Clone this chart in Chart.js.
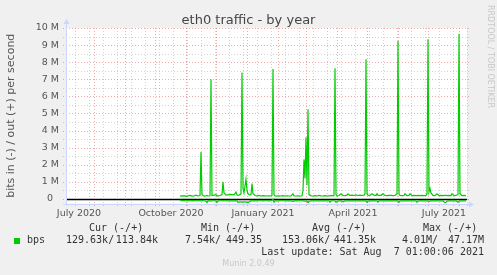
<!DOCTYPE html>
<html><head><meta charset="utf-8">
<script src="https://cdn.jsdelivr.net/npm/chart.js@4.4.1/dist/chart.umd.min.js"></script>
<style>
html,body{margin:0;padding:0;background:#f0f0f0;width:497px;height:275px;overflow:hidden;}
#wrap{position:relative;width:497px;height:275px;}
canvas{position:absolute;left:0;top:0;}
.t{position:absolute;white-space:pre;font-family:'DejaVu Sans';line-height:1;}
.m{position:absolute;white-space:pre;font-family:'DejaVu Sans Mono';font-size:10px;line-height:1;color:#333;}
</style></head><body>
<div id="wrap">
<canvas id="c" width="497" height="275"></canvas>
<div class="t" id="title" style="left:0;width:497px;text-align:center;top:12.5px;font-size:13px;color:#444;">eth0 traffic - by year</div>
<div class="t" id="rrd" style="left:494px;top:5px;font-size:8px;color:#c8c8c8;transform-origin:0 0;transform:rotate(90deg);">RRDTOOL / TOBI OETIKER</div>
<div id="legend"></div>
</div>
<script>
// ---- data (days since 2020-07-05; values in Mbit/s) ----
const days = [113,115,117,119,121,123,125,127,129,131,133,134,135,137,139,140,141,143,144,145,147,149,150,151,153,155,156,157,159,161,163,165,167,169,170,171,173,174,175,176,177,179,180,181,183,184,185,186,188,190,192,194,196,198,200,202,204,205,206,207,208,210,212,214,216,218,220,222,224,226,227,229,231,233,235,236,237,238,239,240,241,242,244,246,248,250,252,254,256,258,260,262,263,264,266,267,268,269,270,272,274,276,278,280,281,283,285,287,289,291,293,295,297,298,299,300,301,303,305,307,309,310,311,312,314,316,318,320,322,324,326,328,330,331,332,333,335,337,338,340,342,343,345,347,349,350,351,353,355,357,359,360,361,362,363,364,366,368,370,372,374,376,378,379,380,382,384,385,387,389,391,392,393,395,397,399];
const outMbps = [0.18,0.16,0.19,0.15,0.18,0.20,0.16,0.17,0.22,0.17,0.20,2.75,0.25,0.16,0.18,0.20,0.17,0.18,7.00,0.20,0.22,0.25,0.18,0.18,0.20,0.25,1.00,0.35,0.22,0.24,0.26,0.25,0.24,0.40,0.22,0.20,0.25,0.30,7.40,0.60,0.35,1.15,0.50,0.30,0.22,0.25,0.90,0.30,0.20,0.18,0.20,0.17,0.19,0.18,0.17,0.18,0.17,0.20,7.60,0.25,0.17,0.16,0.18,0.17,0.19,0.17,0.18,0.17,0.18,0.30,0.18,0.17,0.18,0.17,0.18,0.50,2.30,1.20,3.60,0.80,5.25,0.25,0.18,0.17,0.19,0.17,0.20,0.18,0.17,0.19,0.17,0.18,0.18,0.20,0.18,0.20,7.65,0.25,0.17,0.20,0.30,0.20,0.19,0.22,0.30,0.20,0.22,0.20,0.23,0.20,0.22,0.20,0.21,0.30,8.17,0.30,0.22,0.20,0.30,0.22,0.20,0.30,0.20,0.20,0.21,0.30,0.20,0.19,0.21,0.20,0.19,0.20,0.30,9.24,0.30,0.20,0.19,0.20,0.30,0.19,0.20,0.30,0.19,0.20,0.19,0.19,0.20,0.19,0.20,0.19,0.20,0.30,9.34,0.40,0.60,0.35,0.20,0.19,0.30,0.19,0.20,0.19,0.20,0.20,0.19,0.20,0.19,0.30,0.19,0.20,0.25,9.65,0.30,0.19,0.20,0.19];
const inMbps = [-0.08,-0.10,-0.10,-0.11,-0.10,-0.11,-0.10,-0.10,-0.11,-0.10,-0.11,-0.12,-0.10,-0.11,-0.14,-0.22,-0.12,-0.11,-0.13,-0.11,-0.11,-0.12,-0.21,-0.12,-0.11,-0.11,-0.12,-0.11,-0.11,-0.12,-0.11,-0.12,-0.11,-0.12,-0.12,-0.20,-0.18,-0.18,-0.19,-0.18,-0.18,-0.19,-0.18,-0.22,-0.13,-0.12,-0.12,-0.12,-0.11,-0.12,-0.11,-0.11,-0.12,-0.11,-0.11,-0.12,-0.11,-0.08,-0.02,-0.20,-0.12,-0.11,-0.12,-0.11,-0.11,-0.12,-0.11,-0.12,-0.11,-0.16,-0.12,-0.11,-0.12,-0.11,-0.11,-0.12,-0.12,-0.13,-0.13,-0.12,-0.22,-0.14,-0.12,-0.11,-0.12,-0.11,-0.12,-0.11,-0.12,-0.11,-0.12,-0.11,-0.20,-0.12,-0.11,-0.11,-0.12,-0.20,-0.14,-0.12,-0.11,-0.17,-0.12,-0.11,-0.12,-0.11,-0.12,-0.11,-0.12,-0.11,-0.12,-0.11,-0.12,-0.12,-0.12,-0.21,-0.13,-0.12,-0.11,-0.12,-0.11,-0.12,-0.20,-0.11,-0.12,-0.11,-0.12,-0.11,-0.12,-0.11,-0.12,-0.11,-0.12,-0.13,-0.20,-0.12,-0.11,-0.12,-0.11,-0.12,-0.11,-0.12,-0.11,-0.12,-0.11,-0.20,-0.13,-0.12,-0.11,-0.12,-0.11,-0.12,-0.13,-0.15,-0.12,-0.12,-0.11,-0.12,-0.11,-0.12,-0.11,-0.12,-0.22,-0.20,-0.13,-0.12,-0.11,-0.12,-0.11,-0.12,-0.20,-0.13,-0.12,-0.11,-0.12,-0.12];

// ---- axes / ticks ----
const yTickValues = [0,1,2,3,4,5,6,7,8,9,10];
const yTickLabels = ['0\u2007','1 M','2 M','3 M','4 M','5 M','6 M','7 M','8 M','9 M','10 M'];
const xLabelDays = [12,104,196,286,377];
const xLabelText = ['July 2020','October 2020','January 2021','April 2021','July 2021'];
const monthStartDays = [27,58,88,119,149,180,211,239,270,300,331,361,392];
const minorGridDays = [8,22,36,50,64,78,92,106,120,134,148,162,176,190,204,218,232,246,260,274,288,302,316,330,344,358,372,386,400];
const yMinorValues = [0.5,1.5,2.5,3.5,4.5,5.5,6.5,7.5,8.5,9.5];

// ---- legend text ----
const legendHeaders = [['Cur (-/+)',89],['Min (-/+)',201],['Avg (-/+)',312],['Max (-/+)',423]];
const legendLeft = [['bps',27],['129.63k/',66],['7.54k/',185],['153.06k/',282],['4.01M/',402]];
const legendRight = [['113.84k',158],['449.35',262],['441.35k',376],['47.17M',484]];
const lastUpdate = 'Last update: Sat Aug  7 01:00:06 2021';
const footer = 'Munin 2.0.49';

const lg = document.getElementById('legend');
function addText(txt, css){const d=document.createElement('div');d.className='m';d.textContent=txt;d.style.cssText+=css;lg.appendChild(d);return d;}
legendHeaders.forEach(([t,x])=>addText(t,`left:${x}px;top:222.8px;`));
legendLeft.forEach(([t,x])=>addText(t,`left:${x}px;top:234.8px;`));
legendRight.forEach(([t,x])=>addText(t,`right:${497-x}px;top:234.8px;`));
addText(lastUpdate,`right:${497-484}px;top:246.5px;`);
const f=document.createElement('div');f.className='t';f.textContent=footer;f.style.cssText='left:0;width:497px;text-align:center;top:260px;font-size:8px;color:#c8c8c8;';lg.appendChild(f);
const sq=document.createElement('div');sq.style.cssText='position:absolute;left:14px;top:238px;width:6px;height:6px;background:#00cc00;';lg.appendChild(sq);

const GREEN='#00cc00';
const rrdPlugin = {
  id:'rrd',
  beforeDatasetsDraw(chart){
    const {ctx, chartArea:a, scales:{x,y}} = chart;
    ctx.save();
    ctx.fillStyle='#ffffff';
    ctx.fillRect(a.left,a.top,a.right-a.left,a.bottom-a.top);
    ctx.lineWidth=1;
    ctx.setLineDash([1,2]);
    const vline=(d,col)=>{const px=Math.round(x.getPixelForValue(d))+0.5;ctx.strokeStyle=col;ctx.beginPath();ctx.moveTo(px,a.top);ctx.lineTo(px,a.bottom+3);ctx.stroke();};
    const hline=(v,col)=>{const py=Math.round(y.getPixelForValue(v*1e6))+0.5;ctx.strokeStyle=col;ctx.beginPath();ctx.moveTo(a.left-4,py);ctx.lineTo(a.right+2,py);ctx.stroke();};
    minorGridDays.forEach(d=>vline(d,'rgba(150,150,150,0.42)'));
    yMinorValues.forEach(v=>hline(v,'rgba(150,150,150,0.42)'));
    monthStartDays.forEach(d=>vline(d,'rgba(225,90,90,0.5)'));
    yTickValues.forEach(v=>hline(v,'rgba(225,90,90,0.5)'));
    ctx.setLineDash([]);
    // zero line
    const zy=Math.round(y.getPixelForValue(0))+0.5;
    ctx.strokeStyle='#000';ctx.lineWidth=1.3;
    ctx.beginPath();ctx.moveTo(a.left,zy);ctx.lineTo(a.right,zy);ctx.stroke();
    ctx.restore();
  },
  afterDraw(chart){
    const {ctx, chartArea:a} = chart;
    ctx.save();
    ctx.strokeStyle='#ccd4ff';ctx.fillStyle='#ccd4ff';ctx.lineWidth=1;
    const lx=Math.round(a.left)-0.5, by=Math.round(a.bottom)+0.5;
    ctx.beginPath();ctx.moveTo(lx,by+1);ctx.lineTo(lx,a.top-5);ctx.stroke();
    ctx.beginPath();ctx.moveTo(lx-3,a.top-4);ctx.lineTo(lx+3,a.top-4);ctx.lineTo(lx,a.top-9);ctx.closePath();ctx.fill();
    ctx.beginPath();ctx.moveTo(a.left-4,by);ctx.lineTo(a.right+3,by);ctx.stroke();
    ctx.beginPath();ctx.moveTo(a.right+2,by-3);ctx.lineTo(a.right+2,by+3);ctx.lineTo(a.right+7,by);ctx.closePath();ctx.fill();
    ctx.restore();
  }
};

new Chart(document.getElementById('c'),{
  type:'line',
  data:{datasets:[
    {data:days.map((d,i)=>({x:d,y:outMbps[i]*1e6})),borderColor:GREEN,borderWidth:1.2,pointRadius:0,tension:0,fill:false},
    {data:days.map((d,i)=>({x:d,y:inMbps[i]*1e6})),borderColor:GREEN,borderWidth:1.2,pointRadius:0,tension:0,fill:false}
  ]},
  options:{
    responsive:false,animation:false,devicePixelRatio:1,
    layout:{padding:{top:28,left:0,right:30,bottom:0}},
    plugins:{legend:{display:false},title:{display:false},tooltip:{enabled:false}},
    scales:{
      x:{type:'linear',min:0,max:400,grid:{display:false,drawTicks:false},border:{display:false},
        afterBuildTicks:s=>{s.ticks=xLabelDays.map(v=>({value:v}));},
        afterFit:s=>{s.height=71.5;},
        ticks:{autoSkip:false,maxRotation:0,padding:4.5,color:'#555',font:{family:'DejaVu Sans',size:9.5},
          callback:(v,i)=>xLabelText[i]}},
      y:{type:'linear',min:-0.27e6,max:10e6,grid:{display:false,drawTicks:false},border:{display:false},
        afterBuildTicks:s=>{s.ticks=yTickValues.map(v=>({value:v*1e6}));},
        afterFit:s=>{s.width=67;},
        ticks:{padding:8,color:'#555',font:{family:'DejaVu Sans',size:9.5},callback:(v,i)=>yTickLabels[i]},
        title:{display:true,text:'bits in (-) / out (+) per second',color:'#555',font:{family:'DejaVu Sans',size:11},padding:{top:5,bottom:0}}}
    }
  },
  plugins:[rrdPlugin]
});
</script>
</body></html>
